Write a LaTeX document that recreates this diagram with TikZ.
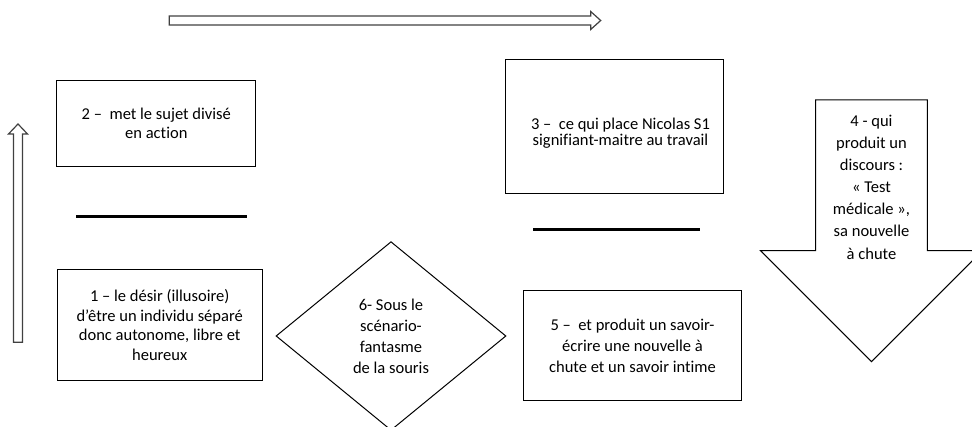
\documentclass[tikz,border=0pt]{standalone}
\usepackage{fontspec}
\setmainfont{Carlito}[Ligatures=NoCommon]
\usetikzlibrary{shapes.geometric}

\begin{document}
\begin{tikzpicture}[x=0.75pt,y=-0.75pt,
    box/.style={draw,line width=0.75pt,align=center,inner sep=0pt,font=\fontsize{12.4pt}{14.8pt}\selectfont},
    txt/.style={align=center,inner sep=0pt,font=\fontsize{12.4pt}{14.8pt}\selectfont},
    hollow/.style={draw=black!75,line width=0.9pt},
    bar/.style={line width=2pt}]
      \useasboundingbox (0,0) rectangle (972,427);
      \clip (0,0) rectangle (972,427);
      \draw[hollow] (169.3,16) -- (590.7,16) -- (590.7,11.5) -- (600.7,20.5) -- (590.7,29.5) -- (590.7,25) -- (169.3,25) -- cycle;
      \draw[hollow] (13.5,342.3) -- (13.5,134) -- (8.5,134) -- (18,124) -- (27.5,134) -- (22.5,134) -- (22.5,342.3) -- cycle;
      \node[box,minimum width=149pt,minimum height=64.3pt] (b2) at (156.3,123.2) {2 –\ \ met le sujet divisé\\en action};
      \node[box,minimum width=154pt,minimum height=83.8pt] (b1) at (159.7,324.9) {1 – le désir (illusoire)\\d’être un individu séparé\\donc autonome, libre et\\heureux};
      \node[box,minimum width=163.5pt,minimum height=100.8pt] (b3) at (614.7,126.5) {};
      \node[txt,font=\fontsize{12.4pt}{12pt}\selectfont] (t3) at (620.5,133.5) {3 –\ \ ce qui place Nicolas S1\\signifiant-maitre au travail};
      \node[box,minimum width=162.8pt,minimum height=82pt,font=\fontsize{12.4pt}{15.75pt}\selectfont] (b5) at (632.5,345.5) {5 –\ \ et produit un savoir-\\écrire une nouvelle à\\chute et un savoir intime};
      \node[box,diamond,minimum width=172.5pt,minimum height=141.5pt,font=\fontsize{12.4pt}{15.75pt}\selectfont] (d6) at (391,336) {6- Sous le\\scénario-\\fantasme\\de la souris};
      \draw[line width=0.75pt] (815.7,100) -- (927.3,100) -- (927.3,250.7) -- (982.5,250.7) -- (871.5,361.7) -- (760.5,250.7) -- (815.7,250.7) -- cycle;
      \node[txt,font=\fontsize{12.4pt}{16.6pt}\selectfont] (a4) at (871.5,187) {4 - qui\\produit un\\discours :\\« Test\\médicale »,\\sa nouvelle\\à chute};
      \draw[bar] (76,216.7) -- (246.7,216.7);
      \draw[bar] (533.3,229.3) -- (700,229.3);
    \end{tikzpicture}
\end{document}
